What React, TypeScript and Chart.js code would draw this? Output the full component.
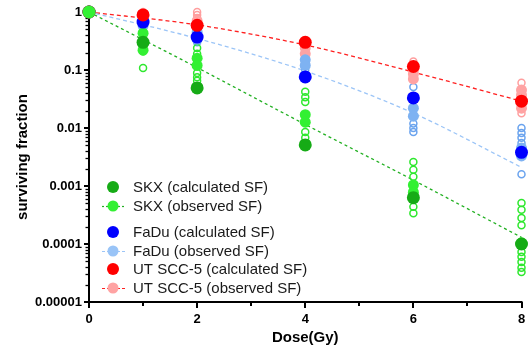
import React, { useEffect, useRef } from 'react';
import { Chart, registerables } from 'chart.js';
Chart.register(...registerables);

// ---- data ----
const xTickValues = [0, 2, 4, 6, 8];
const xMinorTicks = [1, 3, 5, 7];
const yTickValues = [1, 0.1, 0.01, 0.001, 0.0001, 0.00001];
const yTickLabels = ['1', '0.1', '0.01', '0.001', '0.0001', '0.00001'];

const legendLabels = [
  'SKX (calculated SF)',
  'SKX (observed SF)',
  'FaDu (calculated SF)',
  'FaDu (observed SF)',
  'UT SCC-5 (calculated SF)',
  'UT SCC-5 (observed SF)',
];

// calculated SF (filled dark markers)
const calcDose = [0, 1, 2, 4, 6, 8];
const skxCalc = [1, 0.3, 0.049, 0.0051, 0.00063, 0.0001];
const fadCalc = [1, 0.67, 0.37, 0.076, 0.033, 0.0038];
const utCalc = [1, 0.89, 0.59, 0.3, 0.115, 0.029];

// fitted curves through observed SF
const fitDose = [0, 2, 4, 6, 8];
const skxFit = [1, 0.11, 0.0115, 0.00126, 0.00013];
const fadFit = [1, 0.35, 0.096, 0.018, 0.0021];
const utFit = [1, 0.6, 0.27, 0.092, 0.029];

// observed SF (filled light markers)
const skxObsDose = [0, 1, 1, 1, 2, 2, 4, 4, 6, 6, 8];
const skxObsSF = [1, 0.43, 0.3, 0.22, 0.16, 0.12, 0.017, 0.0126, 0.00104, 0.00078, 0.000105];
const fadObsDose = [0, 1, 1, 2, 2, 4, 4, 6, 6, 8, 8];
const fadObsSF = [1, 0.72, 0.58, 0.45, 0.34, 0.15, 0.12, 0.022, 0.016, 0.0045, 0.0033];
const utObsDose = [0, 1, 2, 2, 4, 4, 6, 6, 6, 8, 8, 8];
const utObsSF = [1, 0.92, 0.7, 0.55, 0.24, 0.19, 0.1, 0.085, 0.07, 0.045, 0.037, 0.022];

// observed replicates (open markers)
const skxRepDose = [1, 1, 2, 2, 2, 2, 2, 2, 4, 4, 4, 4, 4, 6, 6, 6, 6, 6, 8, 8, 8, 8, 8, 8, 8, 8, 8];
const skxRepSF = [0.108, 0.21, 0.39, 0.24, 0.19, 0.089, 0.075, 0.065, 0.042, 0.034, 0.028, 0.0085, 0.0068,
  0.0026, 0.0019, 0.00144, 0.00044, 0.00034, 0.00051, 0.00039, 0.00028, 0.00021, 0.000073, 0.00006, 0.000049, 0.000039, 0.000033];
const fadRepDose = [1, 2, 2, 4, 4, 4, 6, 6, 6, 6, 8, 8, 8, 8, 8];
const fadRepSF = [0.8, 0.5, 0.3, 0.18, 0.135, 0.1, 0.051, 0.012, 0.01, 0.0085, 0.01, 0.0082, 0.0068, 0.0055, 0.0016];
const utRepDose = [1, 1, 2, 2, 2, 4, 4, 6, 8, 8];
const utRepSF = [1.0, 0.95, 1.0, 0.89, 0.79, 0.16, 0.14, 0.14, 0.06, 0.018];

// ---- styles ----
const C = {
  skxCalc: '#16ab16', skxObs: '#33f033', skxRep: '#2ee82e', skxLine: '#22b022',
  fadCalc: '#0000ff', fadObs: '#7eb2f2', fadRep: '#6aa3ee', fadLine: '#9cc5f7',
  utCalc: '#ff0000', utObs: '#ffa3a3', utRep: '#ff9e9e', utLine: '#ff2020',
};
const LEGEND_FAD_OBS = '#99c4f7';
const FONT = '"Liberation Sans", Arial, sans-serif';

const pts = (xs: number[], ys: number[]) => xs.map((x, i) => ({ x, y: ys[i] }));

const axesPlugin = {
  id: 'prismAxes',
  beforeDatasetsDraw(chart: any) {
    const { ctx, chartArea, scales } = chart;
    const { left, right, top, bottom } = chartArea;
    const x = scales.x, y = scales.y;
    ctx.save();
    ctx.strokeStyle = '#000';
    ctx.lineCap = 'butt';
    ctx.lineWidth = 2;
    ctx.beginPath();
    ctx.moveTo(left, top - 1);
    ctx.lineTo(left, bottom + 1);
    ctx.moveTo(left - 1, bottom);
    ctx.lineTo(right + 1, bottom);
    ctx.stroke();
    // y ticks
    yTickValues.forEach((v) => {
      const py = Math.round(y.getPixelForValue(v));
      ctx.lineWidth = 2;
      ctx.beginPath();
      ctx.moveTo(left - 5, py);
      ctx.lineTo(left, py);
      ctx.stroke();
      if (v < 1) {
        for (let m = 2; m <= 9; m++) {
          const pm = Math.round(y.getPixelForValue(v * m)) + 0.5;
          ctx.lineWidth = 1.3;
          ctx.beginPath();
          ctx.moveTo(left - 3.5, pm);
          ctx.lineTo(left, pm);
          ctx.stroke();
        }
      }
    });
    // x ticks
    xTickValues.forEach((v) => {
      const px = Math.round(x.getPixelForValue(v));
      ctx.lineWidth = 2;
      ctx.beginPath();
      ctx.moveTo(px, bottom);
      ctx.lineTo(px, bottom + 6);
      ctx.stroke();
    });
    xMinorTicks.forEach((v) => {
      const px = Math.round(x.getPixelForValue(v));
      ctx.lineWidth = 2;
      ctx.beginPath();
      ctx.moveTo(px, bottom);
      ctx.lineTo(px, bottom + 4);
      ctx.stroke();
    });
    ctx.restore();
  },
};

const legendPlugin = {
  id: 'prismLegend',
  afterDraw(chart: any) {
    const { ctx } = chart;
    const rows = [187, 206, 232, 251, 269, 288];
    const items = [
      { fill: C.skxCalc, r: 6, line: null, dash: null },
      { fill: C.skxObs, r: 5.5, line: C.skxLine, dash: [2, 2] },
      { fill: C.fadCalc, r: 6, line: null, dash: null },
      { fill: LEGEND_FAD_OBS, r: 5.5, line: C.fadLine, dash: [3, 2] },
      { fill: C.utCalc, r: 6, line: null, dash: null },
      { fill: C.utObs, r: 5.5, line: C.utLine, dash: [3, 2] },
    ];
    ctx.save();
    items.forEach((it, i) => {
      const cy = rows[i];
      if (it.line) {
        ctx.strokeStyle = it.line;
        ctx.lineWidth = 1.2;
        ctx.setLineDash(it.dash);
        ctx.beginPath();
        ctx.moveTo(102, cy + 0.5);
        ctx.lineTo(125, cy + 0.5);
        ctx.stroke();
        ctx.setLineDash([]);
      }
      ctx.fillStyle = it.fill;
      ctx.beginPath();
      ctx.arc(113, cy, it.r, 0, Math.PI * 2);
      ctx.fill();
      ctx.fillStyle = '#1a1a1a';
      ctx.font = '15px ' + FONT;
      ctx.textBaseline = 'middle';
      ctx.textAlign = 'left';
      ctx.fillText(legendLabels[i], 133, cy + 1);
    });
    ctx.restore();
  },
};

export default function App() {
  const ref = useRef<HTMLCanvasElement>(null);
  useEffect(() => {
    if (!ref.current) return;
    const fitLine = (data: number[], color: string, dash: number[], order: number) => ({
      type: 'line',
      data: pts(fitDose, data),
      borderColor: color,
      borderWidth: 1.3,
      borderDash: dash,
      pointRadius: 0,
      showLine: true,
      fill: false,
      cubicInterpolationMode: 'monotone',
      clip: false,
      order,
    });
    const filled = (xs: number[], ys: number[], color: string, r: number, order: number) => ({
      type: 'scatter',
      data: pts(xs, ys),
      backgroundColor: color,
      borderColor: color,
      borderWidth: 0,
      pointRadius: r,
      showLine: false,
      clip: false,
      order,
    });
    const hollow = (xs: number[], ys: number[], color: string, order: number) => ({
      type: 'scatter',
      data: pts(xs, ys),
      backgroundColor: 'rgba(255,255,255,0)',
      borderColor: color,
      borderWidth: 1.5,
      pointRadius: 3.5,
      showLine: false,
      clip: false,
      order,
    });
    const chart = new Chart(ref.current, {
      type: 'scatter',
      data: {
        datasets: [
          fitLine(skxFit, C.skxLine, [3, 3], 30),
          fitLine(fadFit, C.fadLine, [4, 3], 31),
          fitLine(utFit, C.utLine, [4, 3], 32),
          hollow(skxRepDose, skxRepSF, C.skxRep, 20),
          hollow(fadRepDose, fadRepSF, C.fadRep, 21),
          hollow(utRepDose, utRepSF, C.utRep, 22),
          filled(skxObsDose, skxObsSF, C.skxObs, 5.5, 10),
          filled(fadObsDose, fadObsSF, C.fadObs, 5.5, 11),
          filled(utObsDose, utObsSF, C.utObs, 5.5, 12),
          filled(calcDose, skxCalc, C.skxCalc, 6.5, 3),
          filled(calcDose, fadCalc, C.fadCalc, 6.5, 2),
          filled(calcDose, utCalc, C.utCalc, 6.5, 1),
          filled([0], [1], C.skxObs, 6.5, 0),
        ] as any,
      },
      options: {
        responsive: false,
        animation: false,
        devicePixelRatio: 1,
        layout: { padding: { left: 0, right: 6, top: 12, bottom: 0 } },
        plugins: { legend: { display: false }, tooltip: { enabled: false } },
        scales: {
          x: {
            type: 'linear',
            min: 0,
            max: 8,
            afterFit: (s: any) => { s.height = 48; s.paddingLeft = 0; s.paddingRight = 0; },
            afterBuildTicks: (s: any) => { s.ticks = xTickValues.map((v) => ({ value: v })); },
            grid: { display: false, drawTicks: false },
            border: { display: false },
            ticks: {
              padding: 10,
              color: '#000',
              font: { family: FONT, size: 13, weight: 'bold' },
              autoSkip: false,
              maxRotation: 0,
            },
            title: {
              display: true,
              text: 'Dose(Gy)',
              color: '#000',
              font: { family: FONT, size: 15, weight: 'bold' },
              padding: { top: 0, bottom: 3 },
            },
          },
          y: {
            type: 'logarithmic',
            min: 0.00001,
            max: 1,
            afterFit: (s: any) => { s.width = 89; s.paddingTop = 0; s.paddingBottom = 0; },
            afterBuildTicks: (s: any) => { s.ticks = yTickValues.map((v) => ({ value: v })); },
            grid: { display: false, drawTicks: false },
            border: { display: false },
            ticks: {
              padding: 7,
              color: '#000',
              font: { family: FONT, size: 13, weight: 'bold' },
              autoSkip: false,
              callback: (v: any) => {
                const i = yTickValues.findIndex((t) => Math.abs(t - v) / t < 1e-6);
                return i >= 0 ? yTickLabels[i] : '';
              },
            },
            title: {
              display: true,
              text: 'surviving fraction',
              color: '#000',
              font: { family: FONT, size: 15, weight: 'bold' },
              padding: { top: 14, bottom: 0 },
            },
          },
        },
      } as any,
      plugins: [axesPlugin, legendPlugin],
    });
    return () => chart.destroy();
  }, []);
  return (
    <div style={{ position: 'absolute', left: 0, top: 0, width: 528, height: 350, background: '#fff' }}>
      <canvas ref={ref} width={528} height={350} style={{ display: 'block' }} />
    </div>
  );
}
